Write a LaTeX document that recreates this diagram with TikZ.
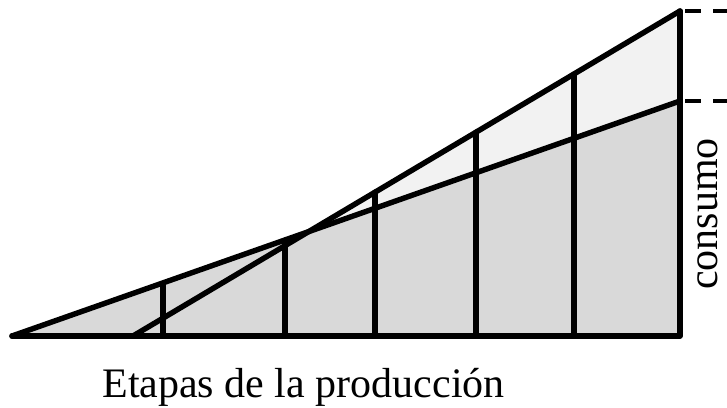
\documentclass[tikz,border=0pt]{standalone}
\usepackage{fontspec}
\setmainfont{Liberation Serif}
\begin{document}
\begin{tikzpicture}[x=0.02cm,y=-0.02cm,line join=round,line cap=round]
		    \useasboundingbox (0,0) rectangle (727,408);
		    \fill[black!15](12,336)--(680,101)--(680,336)--cycle;
		    \fill[black!5](intersection of 12,336--680,101 and 133,336--680,11)--(680,11)--(680,101)--cycle;
		    \draw[line width=3.1pt](12,336)--(680,336)--(680,11);
		    \draw[line width=3.1pt](12,336)--(680,101);
		    \draw[line width=3.1pt](133,336)--(680,11);
		    \draw[line width=2.9pt](163,336)--(163,283);
		    \draw[line width=2.9pt](285,336)--(285,240);
		    \draw[line width=2.9pt](375,336)--(375,192);
		    \draw[line width=2.9pt](476,336)--(476,132);
		    \draw[line width=2.9pt](574,336)--(574,74);
		    \draw[line width=2.4pt,line cap=butt,dash pattern=on 0.32cm off 0.24cm](685,11)--(727,11);
		    \draw[line width=2.4pt,line cap=butt,dash pattern=on 0.32cm off 0.24cm](685,101)--(727,101);
		    \draw(303.5,398)node[anchor=base,inner sep=0pt,font=\fontsize{23.9}{28}\selectfont]{Etapas de la producción};
		    \draw(717,214)node[rotate=90,anchor=base,inner sep=0pt,font=\fontsize{23.9}{28}\selectfont]{consumo};
		\end{tikzpicture}
\end{document}
